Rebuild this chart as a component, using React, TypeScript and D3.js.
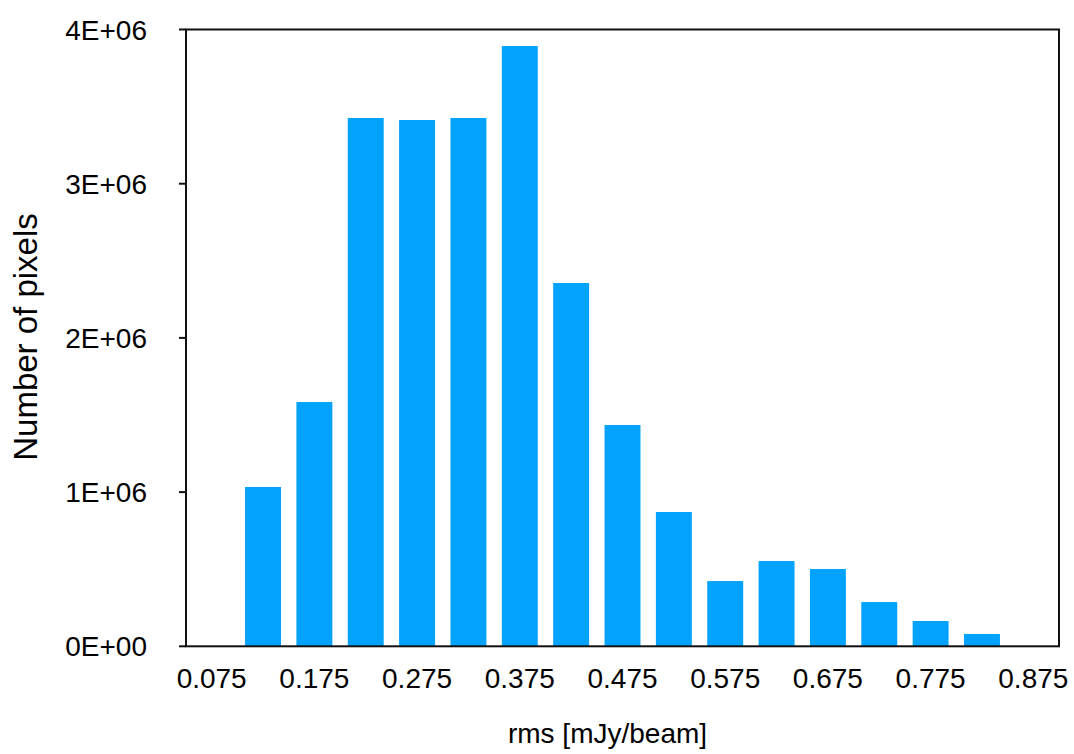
import React from "react";
import * as d3 from "d3";

const categories = ["0.075","0.125","0.175","0.225","0.275","0.325","0.375","0.425","0.475","0.525","0.575","0.625","0.675","0.725","0.775","0.825","0.875"];
const pixelCounts = [0, 1033000, 1584000, 3426000, 3413000, 3426000, 3893000, 2356000, 1435000, 871000, 423000, 553000, 501000, 287000, 164000, 80000, 0];
const xTickLabels = ["0.075","0.175","0.275","0.375","0.475","0.575","0.675","0.775","0.875"];
const yTicks = [0, 1000000, 2000000, 3000000, 4000000];
const yTickLabels = ["0E+00","1E+06","2E+06","3E+06","4E+06"];

export default function App() {
  const W = 1074, H = 754;
  const left = 186, right = 1059, top = 29.5, bottom = 646.3;
  const x = d3.scaleBand<string>().domain(categories).range([left, right]).paddingInner(0.3).paddingOuter(0.15);
  const y = d3.scaleLinear().domain([0, 4000000]).range([bottom, top]);
  const font = "'Liberation Sans', Arial, Helvetica, sans-serif";
  const fs = 28;
  return (
    <svg width={W} height={H} style={{ position: "absolute", left: 0, top: 0, background: "#fff" }}>
      {categories.map((c, i) => pixelCounts[i] > 0 ? (
        <rect key={c} x={x(c)!} y={y(pixelCounts[i])} width={x.bandwidth()} height={bottom - y(pixelCounts[i])} fill="#03a2fd" />
      ) : null)}
      <rect x={left} y={top} width={right - left} height={bottom - top} fill="none" stroke="#111" strokeWidth={2} />
      {yTicks.map((t, i) => (
        <g key={t}>
          <line x1={left - 7} x2={left} y1={y(t)} y2={y(t)} stroke="#111" strokeWidth={2} />
          <text x={147} y={y(t)} dy="0.36em" textAnchor="end" fontFamily={font} fontSize={fs} fill="#000">{yTickLabels[i]}</text>
        </g>
      ))}
      {xTickLabels.map((l) => (
        <text key={l} x={x(l)! + x.bandwidth() / 2} y={688} textAnchor="middle" fontFamily={font} fontSize={fs} fill="#000">{l}</text>
      ))}
      <text x={(left + right) / 2 - 15} y={743} textAnchor="middle" fontFamily={font} fontSize={fs} fill="#000">rms [mJy/beam]</text>
      <text transform={`translate(37, ${337}) rotate(-90)`} textAnchor="middle" fontFamily={font} fontSize={33} fill="#000">Number of pixels</text>
    </svg>
  );
}
